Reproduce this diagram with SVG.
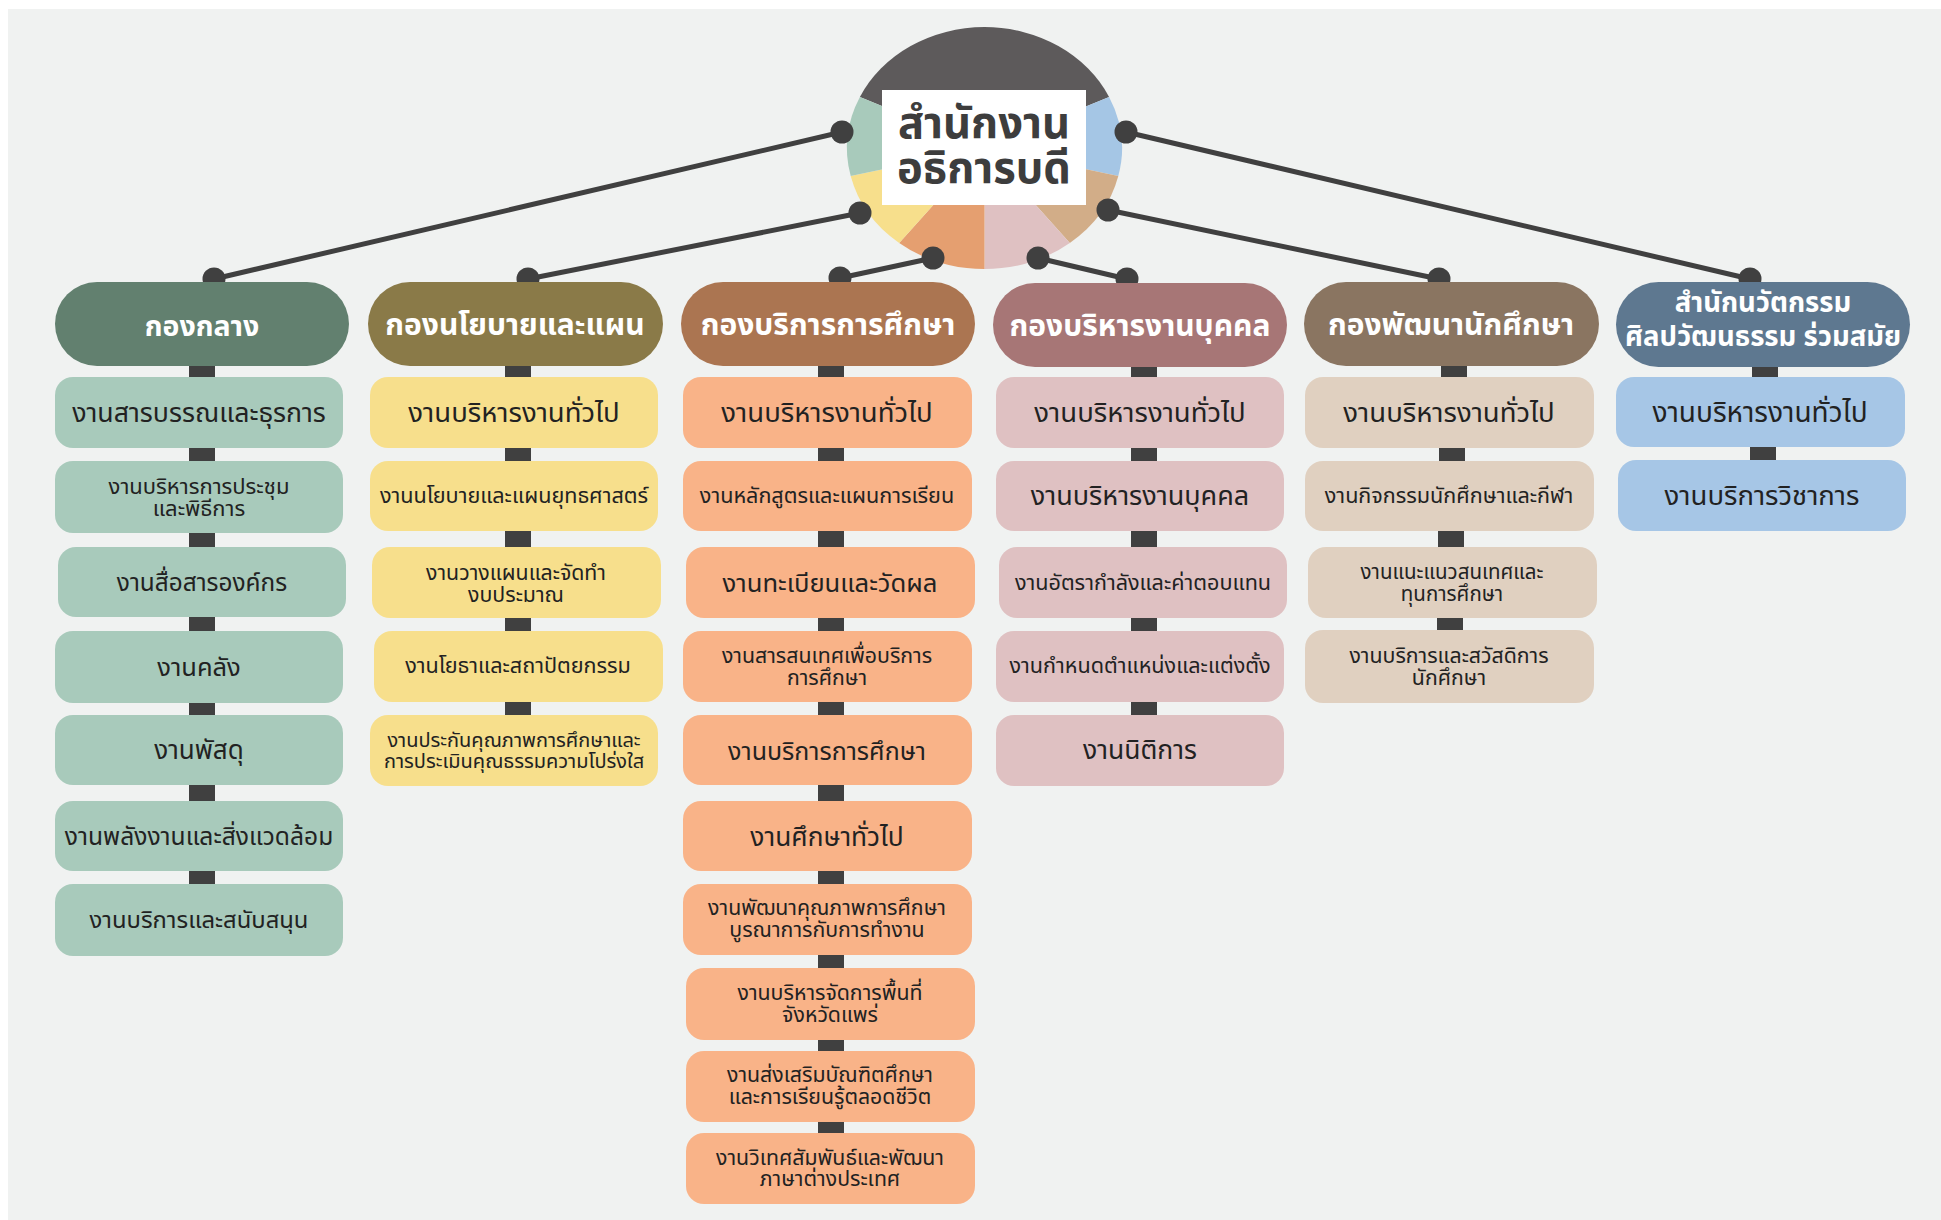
<svg xmlns="http://www.w3.org/2000/svg" width="1941" height="1220" viewBox="0 0 1941 1220">
<style>
text{font-family:"Noto Sans Thai","Noto Sans","Liberation Sans",sans-serif;text-anchor:middle}
.hd{fill:#ffffff;font-weight:700;font-size:30px}
.hd2{fill:#ffffff;font-weight:700;font-size:27.5px}
.t{fill:#222222}
.L{font-size:27.5px}
.M{font-size:21.6px}
.S{font-size:21.3px}
.bar{fill:#404040}
.ln{stroke:#404040;stroke-width:5;fill:none}
.dot{fill:#404040}
.c1{fill:#a8cabb}.c2{fill:#f7df8c}.c3{fill:#f9b388}.c4{fill:#dfc1c2}.c5{fill:#e0d0c0}.c6{fill:#a6c6e6}
</style>
<rect x="0" y="0" width="1941" height="1220" fill="#ffffff"/>
<rect x="8" y="9" width="1933" height="1211" fill="#f0f2f1"/>

<g id="center">
<path d="M984.5,148 L859.9,96.9 A137.5,121 0 0 1 1109.1,96.9 Z" fill="#5d5a5b"/>
<path d="M984.5,148 L1109.1,96.9 A137.5,121 0 0 1 1118.3,175.9 Z" fill="#a5c6e5"/>
<path d="M984.5,148 L1118.3,175.9 A137.5,121 0 0 1 1069.8,242.9 Z" fill="#d2ad88"/>
<path d="M984.5,148 L1069.8,242.9 A137.5,121 0 0 1 984.5,269 Z" fill="#dfc1c2"/>
<path d="M984.5,148 L984.5,269 A137.5,121 0 0 1 899.2,242.9 Z" fill="#e59f70"/>
<path d="M984.5,148 L899.2,242.9 A137.5,121 0 0 1 850.7,175.9 Z" fill="#f7df8c"/>
<path d="M984.5,148 L850.7,175.9 A137.5,121 0 0 1 859.9,96.9 Z" fill="#a8cabb"/>
<rect x="882" y="90" width="204" height="115" fill="#ffffff"/>
<text x="984" y="138" font-size="43.5" font-weight="700" fill="#3d3d3d">สำนักงาน</text>
<text x="984" y="183" font-size="43.5" font-weight="700" fill="#3d3d3d">อธิการบดี</text>
</g>

<g id="connectors">
<line class="ln" x1="842" y1="132" x2="214" y2="279"/>
<line class="ln" x1="860" y1="213" x2="528" y2="279"/>
<line class="ln" x1="933" y1="258" x2="840" y2="278"/>
<line class="ln" x1="1038" y1="258" x2="1127" y2="279"/>
<line class="ln" x1="1108" y1="210" x2="1439" y2="279"/>
<line class="ln" x1="1126" y1="132" x2="1750" y2="279"/>
<circle class="dot" cx="842" cy="132" r="11.5"/>
<circle class="dot" cx="860" cy="213" r="11.5"/>
<circle class="dot" cx="933" cy="258" r="11.5"/>
<circle class="dot" cx="1038" cy="258" r="11.5"/>
<circle class="dot" cx="1108" cy="210" r="11.5"/>
<circle class="dot" cx="1126" cy="132" r="11.5"/>
<circle class="dot" cx="214" cy="279" r="11.5"/>
<circle class="dot" cx="528" cy="279" r="11.5"/>
<circle class="dot" cx="840" cy="278" r="11.5"/>
<circle class="dot" cx="1127" cy="279" r="11.5"/>
<circle class="dot" cx="1439" cy="279" r="11.5"/>
<circle class="dot" cx="1750" cy="279" r="11.5"/>
<rect class="bar" x="189" y="365" width="26" height="13"/>
<rect class="bar" x="189" y="447" width="26" height="15"/>
<rect class="bar" x="189" y="532" width="26" height="16"/>
<rect class="bar" x="189" y="617" width="26" height="15"/>
<rect class="bar" x="189" y="701" width="26" height="15"/>
<rect class="bar" x="189" y="785" width="26" height="17"/>
<rect class="bar" x="189" y="870" width="26" height="15"/>
<rect class="bar" x="505" y="365" width="26" height="13"/>
<rect class="bar" x="505" y="447" width="26" height="15"/>
<rect class="bar" x="505" y="531" width="26" height="17"/>
<rect class="bar" x="505" y="618" width="26" height="14"/>
<rect class="bar" x="505" y="701" width="26" height="15"/>
<rect class="bar" x="818" y="364" width="26" height="14"/>
<rect class="bar" x="818" y="447" width="26" height="15"/>
<rect class="bar" x="818" y="530" width="26" height="18"/>
<rect class="bar" x="818" y="617" width="26" height="15"/>
<rect class="bar" x="818" y="701" width="26" height="15"/>
<rect class="bar" x="818" y="784" width="26" height="18"/>
<rect class="bar" x="818" y="870" width="26" height="15"/>
<rect class="bar" x="818" y="954" width="26" height="15"/>
<rect class="bar" x="818" y="1039" width="26" height="13"/>
<rect class="bar" x="818" y="1121" width="26" height="13"/>
<rect class="bar" x="1131" y="366" width="26" height="12"/>
<rect class="bar" x="1131" y="447" width="26" height="15"/>
<rect class="bar" x="1131" y="530" width="26" height="18"/>
<rect class="bar" x="1131" y="617" width="26" height="15"/>
<rect class="bar" x="1131" y="701" width="26" height="15"/>
<rect class="bar" x="1441" y="365" width="26" height="13"/>
<rect class="bar" x="1439" y="447" width="26" height="15"/>
<rect class="bar" x="1438" y="530" width="26" height="18"/>
<rect class="bar" x="1437" y="617" width="26" height="14"/>
<rect class="bar" x="1752" y="366" width="26" height="12"/>
<rect class="bar" x="1750" y="446" width="26" height="15"/>
</g>

<g id="col1">
<g id="h1"><rect x="55" y="282" width="294" height="84" rx="42" fill="#62806f"/><text class="hd" x="202" y="336" style="font-size:28.5px">กองกลาง</text></g>
<g id="n1-1"><rect class="c1" x="55" y="377" width="288" height="71" rx="18"/><text class="t" x="199" y="422" font-size="26.7">งานสารบรรณและธุรการ</text></g>
<g id="n1-2"><rect class="c1" x="55" y="461" width="288" height="72" rx="18"/><text class="t" x="199" y="494" font-size="22">งานบริหารการประชุม</text><text class="t" x="199" y="516" font-size="22">และพิธีการ</text></g>
<g id="n1-3"><rect class="c1" x="58" y="547" width="288" height="70" rx="18"/><text class="t" x="202" y="591" font-size="24.4">งานสื่อสารองค์กร</text></g>
<g id="n1-4"><rect class="c1" x="55" y="631" width="288" height="72" rx="18"/><text class="t" x="199" y="676" font-size="25.5">งานคลัง</text></g>
<g id="n1-5"><rect class="c1" x="55" y="715" width="288" height="70" rx="18"/><text class="t" x="199" y="759" font-size="26">งานพัสดุ</text></g>
<g id="n1-6"><rect class="c1" x="55" y="801" width="288" height="70" rx="18"/><text class="t" x="199" y="845" font-size="24.6">งานพลังงานและสิ่งแวดล้อม</text></g>
<g id="n1-7"><rect class="c1" x="55" y="884" width="288" height="72" rx="18"/><text class="t" x="199" y="928" font-size="23.8">งานบริการและสนับสนุน</text></g>
</g>

<g id="col2">
<g id="h2"><rect x="368" y="282" width="295" height="84" rx="42" fill="#8a7a48"/><text class="hd" x="515" y="335">กองนโยบายและแผน</text></g>
<g id="n2-1"><rect class="c2" x="370" y="377" width="288" height="71" rx="18"/><text class="t L" x="514" y="422">งานบริหารงานทั่วไป</text></g>
<g id="n2-2"><rect class="c2" x="370" y="461" width="288" height="70" rx="18"/><text class="t M" x="514" y="503">งานนโยบายและแผนยุทธศาสตร์</text></g>
<g id="n2-3"><rect class="c2" x="372" y="547" width="289" height="71" rx="18"/><text class="t S" x="516" y="580">งานวางแผนและจัดทำ</text><text class="t S" x="516" y="601.5">งบประมาณ</text></g>
<g id="n2-4"><rect class="c2" x="374" y="631" width="289" height="71" rx="18"/><text class="t M" x="518" y="673">งานโยธาและสถาปัตยกรรม</text></g>
<g id="n2-5"><rect class="c2" x="370" y="715" width="288" height="71" rx="18"/><text class="t" x="514" y="747" font-size="20">งานประกันคุณภาพการศึกษาและ</text><text class="t" x="514" y="768" font-size="20">การประเมินคุณธรรมความโปร่งใส</text></g>
</g>

<g id="col3">
<g id="h3"><rect x="681" y="282" width="294" height="84" rx="42" fill="#ab7551"/><text class="hd" x="828" y="335">กองบริการการศึกษา</text></g>
<g id="n3-1"><rect class="c3" x="683" y="377" width="289" height="71" rx="18"/><text class="t L" x="827" y="422">งานบริหารงานทั่วไป</text></g>
<g id="n3-2"><rect class="c3" x="683" y="461" width="289" height="70" rx="18"/><text class="t M" x="827" y="503">งานหลักสูตรและแผนการเรียน</text></g>
<g id="n3-3"><rect class="c3" x="686" y="547" width="289" height="71" rx="18"/><text class="t" x="830" y="592" font-size="25.6">งานทะเบียนและวัดผล</text></g>
<g id="n3-4"><rect class="c3" x="683" y="631" width="289" height="71" rx="18"/><text class="t S" x="827" y="663">งานสารสนเทศเพื่อบริการ</text><text class="t S" x="827" y="685">การศึกษา</text></g>
<g id="n3-5"><rect class="c3" x="683" y="715" width="289" height="70" rx="18"/><text class="t" x="827" y="760" font-size="25">งานบริการการศึกษา</text></g>
<g id="n3-6"><rect class="c3" x="683" y="801" width="289" height="70" rx="18"/><text class="t" x="827" y="846" font-size="26.3">งานศึกษาทั่วไป</text></g>
<g id="n3-7"><rect class="c3" x="683" y="884" width="289" height="71" rx="18"/><text class="t S" x="827" y="915">งานพัฒนาคุณภาพการศึกษา</text><text class="t S" x="827" y="937">บูรณาการกับการทำงาน</text></g>
<g id="n3-8"><rect class="c3" x="686" y="968" width="289" height="72" rx="18"/><text class="t S" x="830" y="1000">งานบริหารจัดการพื้นที่</text><text class="t S" x="830" y="1022">จังหวัดแพร่</text></g>
<g id="n3-9"><rect class="c3" x="686" y="1051" width="289" height="71" rx="18"/><text class="t S" x="830" y="1082">งานส่งเสริมบัณฑิตศึกษา</text><text class="t S" x="830" y="1104">และการเรียนรู้ตลอดชีวิต</text></g>
<g id="n3-10"><rect class="c3" x="686" y="1133" width="289" height="71" rx="18"/><text class="t S" x="830" y="1165">งานวิเทศสัมพันธ์และพัฒนา</text><text class="t S" x="830" y="1186">ภาษาต่างประเทศ</text></g>
</g>

<g id="col4">
<g id="h4"><rect x="993" y="283" width="294" height="84" rx="42" fill="#a77676"/><text class="hd" x="1140" y="336">กองบริหารงานบุคคล</text></g>
<g id="n4-1"><rect class="c4" x="996" y="377" width="288" height="71" rx="18"/><text class="t L" x="1140" y="422">งานบริหารงานทั่วไป</text></g>
<g id="n4-2"><rect class="c4" x="996" y="461" width="288" height="70" rx="18"/><text class="t" x="1140" y="505" font-size="27">งานบริหารงานบุคคล</text></g>
<g id="n4-3"><rect class="c4" x="999" y="547" width="288" height="71" rx="18"/><text class="t M" x="1143" y="590">งานอัตรากำลังและค่าตอบแทน</text></g>
<g id="n4-4"><rect class="c4" x="996" y="631" width="288" height="71" rx="18"/><text class="t M" x="1140" y="673">งานกำหนดตำแหน่งและแต่งตั้ง</text></g>
<g id="n4-5"><rect class="c4" x="996" y="715" width="288" height="71" rx="18"/><text class="t" x="1140" y="759" font-size="26.5">งานนิติการ</text></g>
</g>

<g id="col5">
<g id="h5"><rect x="1304" y="282" width="295" height="84" rx="42" fill="#8a7561"/><text class="hd" x="1451" y="335">กองพัฒนานักศึกษา</text></g>
<g id="n5-1"><rect class="c5" x="1305" y="377" width="289" height="71" rx="18"/><text class="t L" x="1449" y="422">งานบริหารงานทั่วไป</text></g>
<g id="n5-2"><rect class="c5" x="1305" y="461" width="289" height="70" rx="18"/><text class="t M" x="1449" y="503">งานกิจกรรมนักศึกษาและกีฬา</text></g>
<g id="n5-3"><rect class="c5" x="1308" y="547" width="289" height="71" rx="18"/><text class="t" x="1452" y="579" font-size="20.5">งานแนะแนวสนเทศและ</text><text class="t" x="1452" y="601" font-size="20.5">ทุนการศึกษา</text></g>
<g id="n5-4"><rect class="c5" x="1305" y="630" width="289" height="73" rx="18"/><text class="t S" x="1449" y="663">งานบริการและสวัสดิการ</text><text class="t S" x="1449" y="685">นักศึกษา</text></g>
</g>

<g id="col6">
<g id="h6"><rect x="1616" y="282" width="294" height="85" rx="42.5" fill="#5e7890"/><text class="hd2" x="1763" y="312">สำนักนวัตกรรม</text><text class="hd2" x="1763" y="346">ศิลปวัฒนธรรม ร่วมสมัย</text></g>
<g id="n6-1"><rect class="c6" x="1616" y="377" width="289" height="70" rx="18"/><text class="t" x="1760" y="422" font-size="28">งานบริหารงานทั่วไป</text></g>
<g id="n6-2"><rect class="c6" x="1618" y="460" width="288" height="71" rx="18"/><text class="t L" x="1762" y="505">งานบริการวิชาการ</text></g>
</g>
</svg>
